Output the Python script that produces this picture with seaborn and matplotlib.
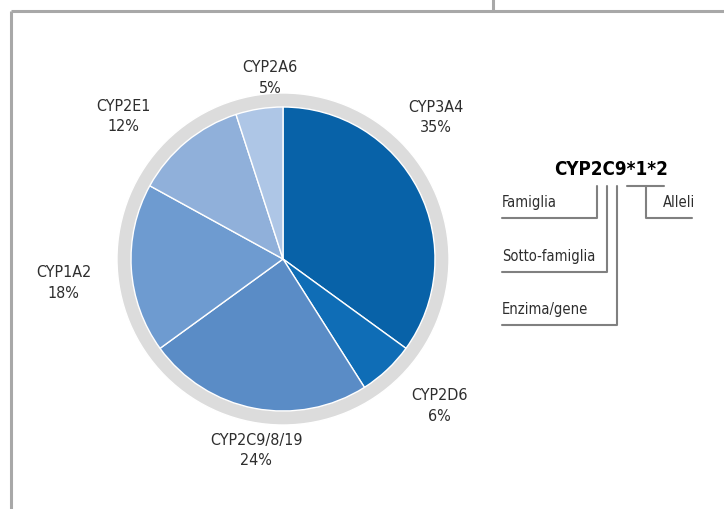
import matplotlib
matplotlib.use("Agg")
import matplotlib.pyplot as plt
import seaborn as sns
import numpy as np

# data
enzymes = ["CYP3A4", "CYP2D6", "CYP2C9/8/19", "CYP1A2", "CYP2E1", "CYP2A6"]
shares = [35, 6, 24, 18, 12, 5]
colors = ["#0862a8", "#0f6db6", "#5a8cc6", "#6e9bd0", "#90b0da", "#aec6e6"]

# where the labels sit: (angle in degrees, distance in pie radii)
label_pos = [(43, 1.26), (-43, 1.29), (-98, 1.16), (186, 1.33), (138, 1.29), (94, 1.10)]

sns.set_theme(style="white")
plt.rcParams["font.family"] = ["DejaVu Sans"]
plt.rcParams["font.stretch"] = "condensed"

W, H = 724, 510
fig = plt.figure(figsize=(W / 100, H / 100), dpi=100)
fig.patch.set_facecolor("white")

# background axes in pixel units for frame + legend diagram
bg = fig.add_axes([0, 0, 1, 1])
bg.set_xlim(0, W)
bg.set_ylim(H, 0)
bg.axis("off")
frame_c = "#a8a8a8"
bg.plot([11, W], [12, 12], color=frame_c, lw=2.2, solid_capstyle="butt")
bg.plot([11, 11], [12, H], color=frame_c, lw=2.2, solid_capstyle="butt")
bg.plot([493, 493], [0, 12], color=frame_c, lw=2.2, solid_capstyle="butt")

# pie
cx, cy, R = 283, 260, 166
pie_ax = fig.add_axes([(cx - R) / W, (H - cy - R) / H, 2 * R / W, 2 * R / H])
pie_ax.pie([1], colors=["#dcdcdc"], radius=1.0, startangle=90)
pie_ax.pie(shares, colors=colors, radius=152 / 166, startangle=90,
           counterclock=False,
           wedgeprops=dict(edgecolor="white", linewidth=1.0))
for name, val, (ang, dist) in zip(enzymes, shares, label_pos):
    a = np.deg2rad(ang)
    pie_ax.text(dist * np.cos(a), dist * np.sin(a), f"{name}\n{val}%",
                ha="center", va="center", fontsize=11.5, color="#2e2e2e",
                fontstretch="condensed", linespacing=1.45)
pie_ax.set_xlim(-1, 1)
pie_ax.set_ylim(-1, 1)
pie_ax.axis("off")

# nomenclature diagram
line_c = "#808080"
lw = 1.5
bg.text(611, 170, "CYP2C9*1*2", ha="center", va="center", fontsize=13.5,
        fontweight="bold", fontstretch="condensed", color="black")
rows = [("Famiglia", 203, 219, 597),
        ("Sotto-famiglia", 257, 273, 607),
        ("Enzima/gene", 310, 326, 617)]
for txt, ty, ly, vx in rows:
    bg.text(502, ty, txt, ha="left", va="center", fontsize=10.5,
            fontstretch="condensed", color="#2e2e2e")
    bg.plot([502, vx, vx], [ly, ly, 187], color=line_c, lw=lw)
bg.plot([627, 664], [187, 187], color=line_c, lw=lw)
bg.plot([646, 646, 692], [187, 219, 219], color=line_c, lw=lw)
bg.text(663, 203, "Alleli", ha="left", va="center", fontsize=10.5,
        fontstretch="condensed", color="#2e2e2e")

fig.savefig("out.png", dpi=100)
